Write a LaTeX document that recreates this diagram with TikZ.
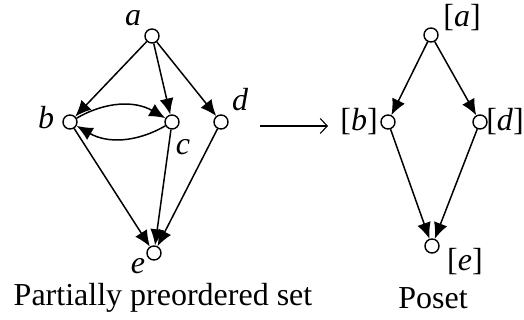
\documentclass[tikz,border=0pt]{standalone}
\usepackage{fontspec}
\setmainfont{Liberation Serif}
\usetikzlibrary{arrows.meta}
\begin{document}
\begin{tikzpicture}[x=1pt,y=-1pt,
  vert/.style={circle,draw,line width=1.4pt,minimum size=14pt,inner sep=0pt,fill=white},
  edge/.style={line width=1.5pt,-{Latex[length=16pt,width=14pt]}},
  lbl/.style={font=\fontsize{32}{36}\selectfont\itshape,inner sep=0pt},
  captxt/.style={font=\fontsize{32}{36}\selectfont,inner sep=0pt}]
\useasboundingbox (0,0) rectangle (524,320);
% left graph
\node[vert] (a) at (152,36) {};
\node[vert] (b) at (70,122) {};
\node[vert] (c) at (172,122) {};
\node[vert] (d) at (221,122) {};
\node[vert] (e) at (154,253) {};
\draw[edge] (a) -- (b);
\draw[edge] (a) -- (c);
\draw[edge] (a) -- (d);
\draw[edge] (b) to[bend left=30] (c);
\draw[edge] (c) to[bend left=30] (b);
\draw[edge] (b) -- (e);
\draw[edge] (c) -- (e);
\draw[edge] (d) -- (e);
\node[lbl] (la) at (133,18) {a};
\node[lbl] (lb) at (46,118) {b};
\node[lbl] (lc) at (183,147) {c};
\node[lbl] (ld) at (240,100) {d};
\node[lbl] (le) at (138,266) {e};
% mapping arrow
\coordinate (m1) at (260,126);
\coordinate (m2) at (328,126);
\draw[line width=1.1pt,-{Straight Barb[length=7pt,width=15pt]}] (m1) -- (m2);
% right poset
\node[vert] (pa) at (431,35) {};
\node[vert] (pb) at (388,122) {};
\node[vert] (pd) at (480,122) {};
\node[vert] (pe) at (432,246) {};
\draw[edge] (pa) -- (pb);
\draw[edge] (pa) -- (pd);
\draw[edge] (pb) -- (pe);
\draw[edge] (pd) -- (pe);
\node[lbl] (lpa) at (462,18) {\upshape[\textit{a}]};
\node[lbl] (lpb) at (359,122) {\upshape[\textit{b}]};
\node[lbl] (lpd) at (505,122) {\upshape[\textit{d}]};
\node[lbl] (lpe) at (465,262) {\upshape[\textit{e}]};
% captions
\node[captxt] (c1) at (163,298) {Partially preordered set};
\node[captxt] (c2) at (433,298) {Poset};
\end{tikzpicture}
\end{document}
